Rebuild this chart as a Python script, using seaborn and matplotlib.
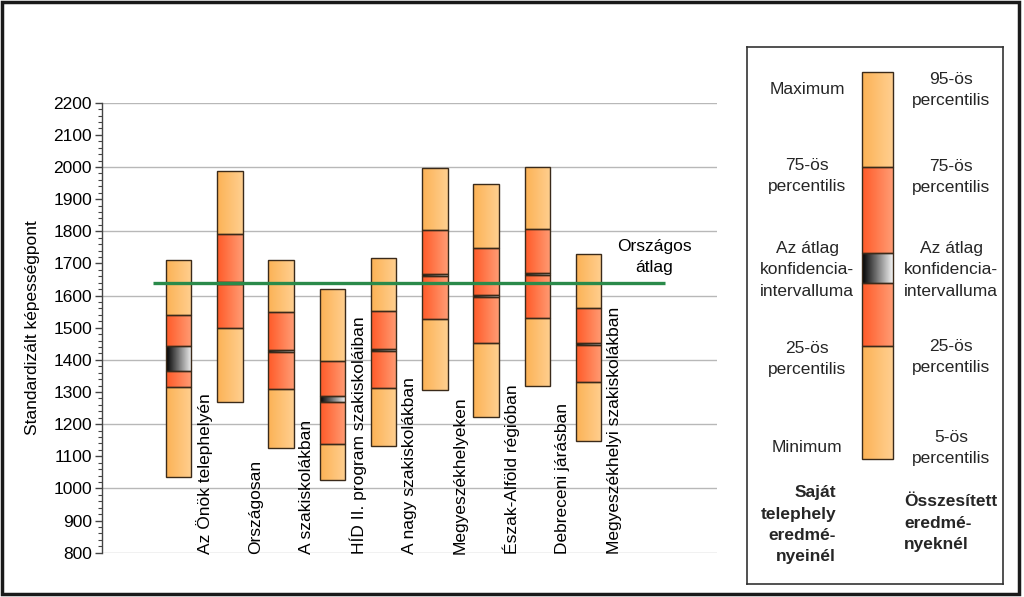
import numpy as np
import pandas as pd
import seaborn as sns
import matplotlib.pyplot as plt
from matplotlib.colors import LinearSegmentedColormap
from matplotlib.patches import Rectangle
from matplotlib.ticker import MultipleLocator

categories = ["Az Önök telephelyén", "Országosan", "A szakiskolákban",
              "HÍD II. program szakiskoláiban", "A nagy szakiskolákban",
              "Megyeszékhelyeken", "Észak-Alföld régióban", "Debreceni járásban",
              "Megyeszékhelyi szakiskolákban"]
minimum = [1034, 1268, 1126, 1026, 1132, 1306, 1223, 1319, 1146]
p25 = [1316, 1500, 1308, 1137, 1311, 1526, 1451, 1531, 1332]
ci_low = [1364, 1637, 1424, 1268, 1427, 1660, 1595, 1664, 1445]
ci_high = [1444, 1643, 1431, 1287, 1434, 1667, 1601, 1671, 1452]
p75 = [1538, 1791, 1548, 1395, 1551, 1805, 1747, 1807, 1560]
maximum = [1710, 1987, 1710, 1619, 1716, 1996, 1947, 1999, 1728]
national_avg = 1640

LIGHT = ("#FCB255", "#FFCF90")
DARK = ("#FF5A28", "#FF9C74")
CI = ("#000000", "#F2F2F2")
EDGE = "#3a2a1a"

sns.set_theme(style="white")
plt.rcParams["font.family"] = ["Liberation Sans", "DejaVu Sans"]


def gradient(ax, patch, colors, z=0.9):
    cmap = LinearSegmentedColormap.from_list("g", list(colors))
    x0, y0 = patch.get_x(), patch.get_y()
    w, h = patch.get_width(), patch.get_height()
    im = ax.imshow(np.linspace(0, 1, 128).reshape(1, -1), cmap=cmap, aspect="auto",
                   extent=(x0, x0 + w, y0, y0 + h), interpolation="bilinear", zorder=z)
    im.set_clip_path(patch)
    patch.set_facecolor("none")


fig = plt.figure(figsize=(10.24, 5.97), dpi=100)
ax = fig.add_axes([101.7 / 1024, 1 - 552.7 / 597, 615 / 1024, 450 / 597])

# floating stacked segments
segments = [
    (minimum, p25, LIGHT),
    (p25, ci_low, DARK),
    (ci_low, ci_high, CI),
    (ci_high, p75, DARK),
    (p75, maximum, LIGHT),
]
for lo, hi, cols in segments:
    df = pd.DataFrame({"cat": categories,
                       "h": np.array(hi) - np.array(lo),
                       "b": lo})
    n0 = len(ax.patches)
    sns.barplot(data=df, x="cat", y="h", bottom=df["b"].values, width=0.5,
                color=cols[0], edgecolor=EDGE, linewidth=1.0, errorbar=None,
                order=categories, ax=ax)
    for p in ax.patches[n0:]:
        gradient(ax, p, cols)

# gridlines every 200
ax.hlines(np.arange(800, 2201, 200), -1.5, 10.5, color="#b8b8b8", lw=1, zorder=0.5)

# national average
ax.hlines(national_avg, -0.5, 9.5, color="#2a8a4a", lw=2.4, zorder=5)
ax.text(9.28, 1720, "Országos\nátlag", ha="center", va="center", fontsize=12.5,
        linespacing=1.55, color="black")

# category labels
for i, cat in enumerate(categories):
    ax.text(i + 0.5, 797, cat, rotation=90, ha="center", va="bottom", fontsize=12.5,
            color="black")

ax.set_xlim(-1.5, 10.5)
ax.set_ylim(800, 2200)
ax.set_xticks([])
ax.set_xlabel("")
ax.yaxis.set_major_locator(MultipleLocator(100))
ax.yaxis.set_minor_locator(MultipleLocator(20))
ax.tick_params(axis="y", which="major", left=True, length=5, width=1, color="#444",
               labelsize=12.5, pad=2, labelcolor="black")
ax.tick_params(axis="y", which="minor", left=True, length=3, width=0.8, color="#444")
for s in ["top", "right", "bottom"]:
    ax.spines[s].set_visible(False)
ax.spines["left"].set_color("#444")
ax.spines["left"].set_linewidth(1)
ax.set_ylabel("Standardizált képességpont", fontsize=12.5, color="black")
ax.yaxis.set_label_coords(-0.10, 0.5)

# legend panel (pixel coordinates)
lx0, lx1, ly0, ly1 = 746.7, 1002.7, 47.3, 584
lg = fig.add_axes([lx0 / 1024, 1 - ly1 / 597, (lx1 - lx0) / 1024, (ly1 - ly0) / 597])
bx0, bx1 = 862.3, 893.3
legend_segments = [(345.7, 459.3, LIGHT), (283.3, 345.7, DARK), (253.3, 283.3, CI),
                   (167.3, 253.3, DARK), (71.7, 167.3, LIGHT)]
for top, bot, cols in legend_segments:
    r = Rectangle((bx0, top), bx1 - bx0, bot - top, facecolor=cols[0], edgecolor=EDGE,
                  lw=1.0, zorder=1)
    lg.add_patch(r)
    gradient(lg, r, cols)

left_texts = [(90, "Maximum"), (176, "75-ös\npercentilis"),
              (270, "Az átlag\nkonfidencia-\nintervalluma"),
              (359, "25-ös\npercentilis"), (448, "Minimum")]
right_texts = [(90, "95-ös\npercentilis"), (177, "75-ös\npercentilis"),
               (270, "Az átlag\nkonfidencia-\nintervalluma"),
               (357, "25-ös\npercentilis"), (448, "5-ös\npercentilis")]
for y, t in left_texts:
    lg.text(807, y, t, ha="center", va="center", fontsize=12.5, linespacing=1.5)
for y, t in right_texts:
    lg.text(951, y, t, ha="center", va="center", fontsize=12.5, linespacing=1.5)
for y, t in [(492, "Saját"), (514, "telephely"), (535, "eredmé-"), (556, "nyeinél")]:
    lg.text(836, y, t, ha="right", va="center", fontsize=12.5, fontweight="bold")
lg.text(904, 523, "Összesített\neredmé-\nnyeknél", ha="left", va="center",
        fontsize=12.5, fontweight="bold", linespacing=1.5)

lg.set_xlim(lx0, lx1)
lg.set_ylim(ly1, ly0)
lg.set_aspect("auto")
lg.set_xticks([])
lg.set_yticks([])
for s in lg.spines.values():
    s.set_color("#333")
    s.set_linewidth(1.2)

# outer frame
fig.patches.append(Rectangle((1.5 / 1024, 3 / 597), 1017 / 1024, 592 / 597,
                             transform=fig.transFigure, fill=False,
                             edgecolor="#1a1a1a", lw=2.5))

fig.savefig("out.png", dpi=100)
